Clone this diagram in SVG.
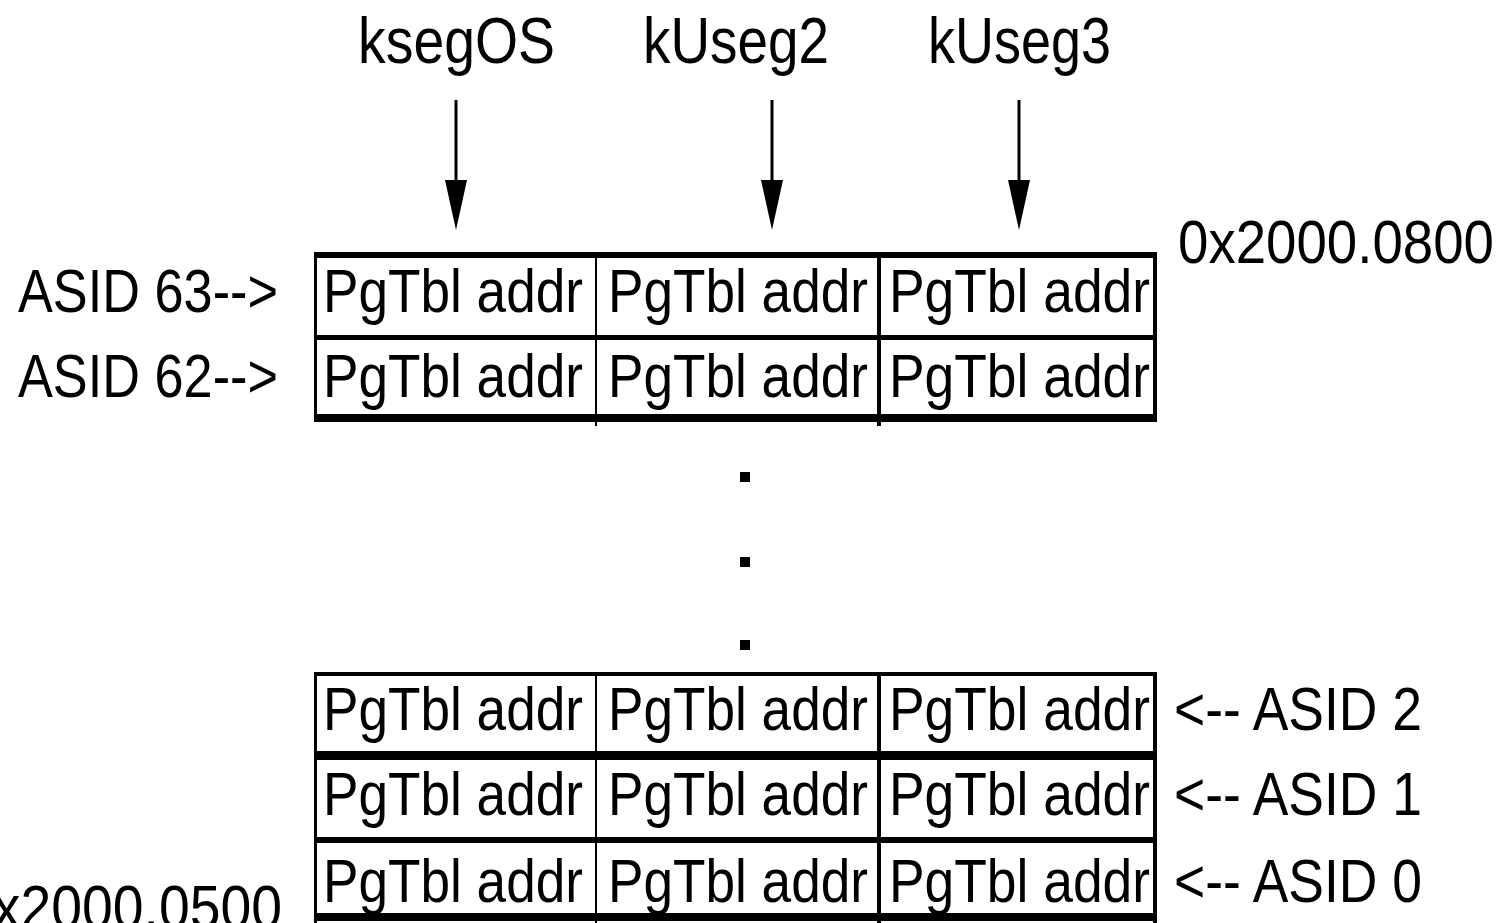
<svg xmlns="http://www.w3.org/2000/svg" width="1506" height="923" viewBox="0 0 1506 923">
<style>
  text { font-family: "Liberation Sans", Arial, sans-serif; fill: #000; }
  .cell { font-size: 61px; }
  .lbl { font-size: 61px; }
  .top { font-size: 65px; }
  .b { fill: #000; }
  .conn { stroke: #000; stroke-width: 3; fill: none; }
</style>
<defs>
  <marker id="ah" viewBox="0 0 50 22" markerWidth="50" markerHeight="22" refX="0" refY="11" orient="auto" markerUnits="userSpaceOnUse">
    <path d="M0,0 L50,11 L0,22 z" fill="#000"/>
  </marker>
</defs>
<rect width="1506" height="923" fill="#fff"/>

<g id="segment-labels">
  <text class="top" x="358" y="63" textLength="197" lengthAdjust="spacingAndGlyphs">ksegOS</text>
  <text class="top" x="643" y="63" textLength="186" lengthAdjust="spacingAndGlyphs">kUseg2</text>
  <text class="top" x="928" y="63" textLength="183" lengthAdjust="spacingAndGlyphs">kUseg3</text>
</g>

<g id="connectors">
  <line class="conn" x1="456" y1="100" x2="456" y2="180" marker-end="url(#ah)"/>
  <line class="conn" x1="772" y1="100" x2="772" y2="180" marker-end="url(#ah)"/>
  <line class="conn" x1="1019" y1="100" x2="1019" y2="180" marker-end="url(#ah)"/>
</g>

<g id="top-table">
  <rect class="b" x="314" y="252" width="843" height="6"/>
  <rect class="b" x="314" y="335" width="843" height="5"/>
  <rect class="b" x="314" y="414" width="843" height="8"/>
  <rect class="b" x="314" y="252" width="3" height="170"/>
  <rect class="b" x="1153" y="252" width="4" height="170"/>
  <rect class="b" x="595" y="252" width="2" height="174"/>
  <rect class="b" x="877" y="252" width="4" height="174"/>
  <text class="cell" x="323" y="312" textLength="260" lengthAdjust="spacingAndGlyphs">PgTbl addr</text>
  <text class="cell" x="608" y="312" textLength="260" lengthAdjust="spacingAndGlyphs">PgTbl addr</text>
  <text class="cell" x="889" y="312" textLength="261" lengthAdjust="spacingAndGlyphs">PgTbl addr</text>
  <text class="cell" x="323" y="397" textLength="260" lengthAdjust="spacingAndGlyphs">PgTbl addr</text>
  <text class="cell" x="608" y="397" textLength="260" lengthAdjust="spacingAndGlyphs">PgTbl addr</text>
  <text class="cell" x="889" y="397" textLength="261" lengthAdjust="spacingAndGlyphs">PgTbl addr</text>
</g>

<g id="left-labels">
  <text class="lbl" x="18" y="312" textLength="260" lengthAdjust="spacingAndGlyphs">ASID 63--&gt;</text>
  <text class="lbl" x="18" y="397" textLength="260" lengthAdjust="spacingAndGlyphs">ASID 62--&gt;</text>
</g>

<g id="addr-high">
  <text class="lbl" x="1178" y="263" textLength="316" lengthAdjust="spacingAndGlyphs">0x2000.0800</text>
</g>

<g id="ellipsis">
  <rect class="b" x="740" y="472" width="10" height="10"/>
  <rect class="b" x="740" y="557" width="10" height="10"/>
  <rect class="b" x="740" y="640" width="10" height="10"/>
</g>

<g id="bottom-table">
  <rect class="b" x="314" y="672" width="843" height="4"/>
  <rect class="b" x="314" y="751" width="843" height="9"/>
  <rect class="b" x="314" y="837" width="843" height="6"/>
  <rect class="b" x="314" y="913" width="843" height="8"/>
  <rect class="b" x="314" y="672" width="3" height="251"/>
  <rect class="b" x="1153" y="672" width="4" height="251"/>
  <rect class="b" x="595" y="672" width="2" height="251"/>
  <rect class="b" x="877" y="672" width="4" height="251"/>
  <text class="cell" x="323" y="730" textLength="260" lengthAdjust="spacingAndGlyphs">PgTbl addr</text>
  <text class="cell" x="608" y="730" textLength="260" lengthAdjust="spacingAndGlyphs">PgTbl addr</text>
  <text class="cell" x="889" y="730" textLength="261" lengthAdjust="spacingAndGlyphs">PgTbl addr</text>
  <text class="cell" x="323" y="815" textLength="260" lengthAdjust="spacingAndGlyphs">PgTbl addr</text>
  <text class="cell" x="608" y="815" textLength="260" lengthAdjust="spacingAndGlyphs">PgTbl addr</text>
  <text class="cell" x="889" y="815" textLength="261" lengthAdjust="spacingAndGlyphs">PgTbl addr</text>
  <text class="cell" x="323" y="902" textLength="260" lengthAdjust="spacingAndGlyphs">PgTbl addr</text>
  <text class="cell" x="608" y="902" textLength="260" lengthAdjust="spacingAndGlyphs">PgTbl addr</text>
  <text class="cell" x="889" y="902" textLength="261" lengthAdjust="spacingAndGlyphs">PgTbl addr</text>
</g>

<g id="right-labels">
  <text class="lbl" x="1174" y="730" textLength="248" lengthAdjust="spacingAndGlyphs">&lt;-- ASID 2</text>
  <text class="lbl" x="1174" y="815" textLength="248" lengthAdjust="spacingAndGlyphs">&lt;-- ASID 1</text>
  <text class="lbl" x="1174" y="902" textLength="248" lengthAdjust="spacingAndGlyphs">&lt;-- ASID 0</text>
</g>

<g id="addr-low">
  <text class="lbl" x="-38" y="928" textLength="320" lengthAdjust="spacingAndGlyphs">0x2000.0500</text>
</g>
</svg>
